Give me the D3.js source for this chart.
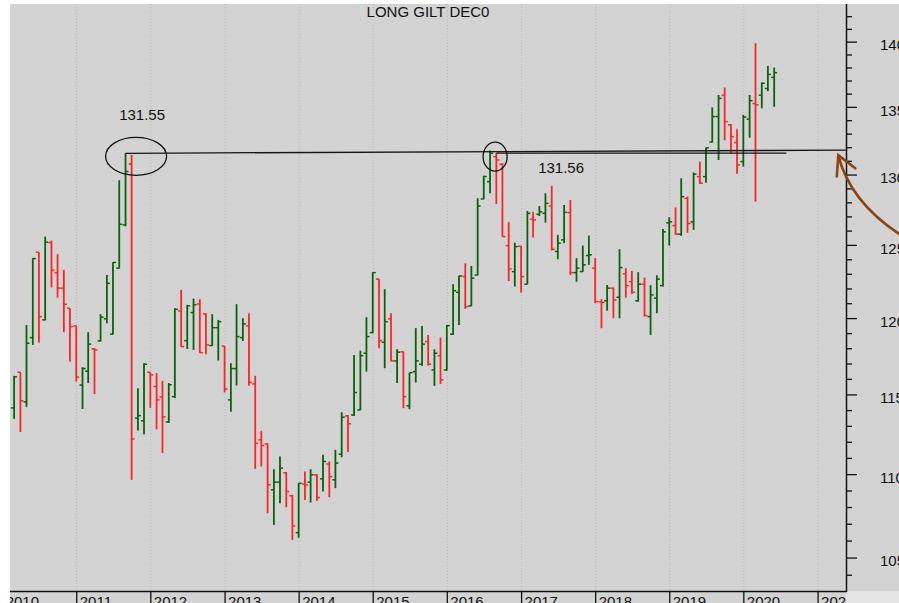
<!DOCTYPE html>
<html>
<head>
<meta charset="utf-8">
<script src="https://cdn.jsdelivr.net/npm/d3@7"></script>
<style>
  body { margin: 0; background: #fff; }
  #chart { width: 899px; height: 603px; }
  text { font-family: "Liberation Sans", Arial, sans-serif; fill: #111; }
</style>
</head>
<body>
<div id="chart"></div>
<script>
//Datos mensuales (OHLC)
const months = [
  "2010-03","2010-04","2010-05","2010-06","2010-07","2010-08","2010-09","2010-10","2010-11","2010-12",
  "2011-01","2011-02","2011-03","2011-04","2011-05","2011-06","2011-07","2011-08","2011-09","2011-10","2011-11","2011-12",
  "2012-01","2012-02","2012-03","2012-04","2012-05","2012-06","2012-07","2012-08","2012-09","2012-10","2012-11","2012-12",
  "2013-01","2013-02","2013-03","2013-04","2013-05","2013-06","2013-07","2013-08","2013-09","2013-10","2013-11","2013-12",
  "2014-01","2014-02","2014-03","2014-04","2014-05","2014-06","2014-07","2014-08","2014-09","2014-10","2014-11","2014-12",
  "2015-01","2015-02","2015-03","2015-04","2015-05","2015-06","2015-07","2015-08","2015-09","2015-10","2015-11","2015-12",
  "2016-01","2016-02","2016-03","2016-04","2016-05","2016-06","2016-07","2016-08","2016-09","2016-10","2016-11","2016-12",
  "2017-01","2017-02","2017-03","2017-04","2017-05","2017-06","2017-07","2017-08","2017-09","2017-10","2017-11","2017-12",
  "2018-01","2018-02","2018-03","2018-04","2018-05","2018-06","2018-07","2018-08","2018-09","2018-10","2018-11","2018-12",
  "2019-01","2019-02","2019-03","2019-04","2019-05","2019-06","2019-07","2019-08","2019-09","2019-10","2019-11","2019-12",
  "2020-01","2020-02","2020-03","2020-04","2020-05","2020-06"
];

const open = [
  114.14,116.43,114.52,118.70,124.49,119.88,125.16,123.08,122.02,120.66,
  119.48,115.60,116.50,117.96,118.48,119.95,118.93,123.39,126.40,130.77,113.49,113.32,
  116.43,115.51,114.84,113.25,114.86,120.48,118.50,120.37,120.95,120.28,118.18,119.36,
  118.14,114.65,116.67,118.70,119.48,115.68,112.12,111.87,109.04,109.51,110.08,108.68,
  106.47,109.39,109.51,109.95,109.71,110.62,109.65,111.23,113.63,113.69,114.01,117.67,
  119.03,122.64,118.40,119.95,117.17,117.76,114.27,116.47,116.95,118.44,116.58,117.50,
  116.58,118.93,121.74,122.81,120.82,122.92,128.24,129.49,131.30,130.75,124.95,123.15,
  124.91,122.29,126.80,127.15,127.22,127.74,124.54,125.35,127.27,123.08,123.15,124.26,
  123.39,121.10,121.16,122.02,121.40,123.00,122.46,121.16,122.29,120.10,121.34,122.19,
  126.55,126.35,125.75,128.29,126.61,129.85,129.85,132.38,134.27,135.88,133.65,132.34,
  130.94,134.08,135.25,135.88,136.39,137.24
];

const high = [
  116.20,116.43,119.54,124.08,124.49,125.58,125.30,124.35,123.27,120.66,
  119.48,116.76,119.06,118.00,120.26,122.92,123.80,129.59,131.55,131.43,115.40,117.02,
  116.43,116.37,115.88,115.73,120.66,121.90,120.89,121.31,121.27,120.33,120.26,119.88,
  118.15,117.02,120.93,119.99,120.33,116.20,112.69,111.91,110.30,111.09,110.12,108.74,
  109.45,110.16,110.30,110.01,111.19,110.78,111.50,113.86,113.69,117.56,117.84,120.06,
  123.11,122.65,121.95,120.33,117.93,117.78,116.41,119.33,119.48,118.88,117.93,118.70,
  119.54,122.29,122.87,123.73,123.54,128.29,129.91,131.75,131.56,130.82,126.59,125.16,
  124.93,127.39,127.33,127.74,128.65,129.17,125.70,127.81,128.17,124.08,124.95,125.65,
  124.08,121.27,122.24,122.06,124.70,123.39,123.20,123.11,122.74,122.22,122.90,126.12,
  126.94,127.65,129.73,128.41,130.15,130.94,131.97,134.96,135.90,136.47,133.72,133.32,
  134.40,135.90,139.88,136.84,138.12,137.99
];

const low = [
  113.44,112.61,114.20,118.22,118.37,119.85,122.08,121.38,119.06,117.13,
  115.83,114.07,115.73,115.02,118.45,119.66,118.90,123.36,126.30,109.65,112.71,112.48,
  114.14,112.79,111.30,113.19,114.76,118.09,117.95,117.89,117.69,117.61,118.16,117.19,
  115.12,113.90,115.57,118.48,115.55,110.32,110.47,107.63,106.93,108.23,107.99,106.04,
  106.16,108.43,108.27,108.37,108.94,108.59,109.14,111.04,111.36,113.63,113.99,116.47,
  118.99,118.00,116.69,117.15,115.73,114.12,114.06,115.77,116.86,116.86,115.55,115.67,
  116.53,118.88,119.54,120.62,120.80,122.90,128.22,128.65,127.88,125.57,122.51,122.13,
  121.72,122.28,125.51,127.03,126.56,124.60,124.01,125.12,122.92,122.46,123.14,123.62,
  121.00,119.32,120.50,119.99,119.99,121.38,121.63,121.11,120.10,118.88,120.33,122.13,
  124.95,125.70,125.63,125.84,126.05,129.32,129.41,132.34,131.06,132.51,131.53,130.05,
  130.58,132.70,128.05,134.89,136.19,135.00
];

const close = [
  116.13,114.59,118.33,124.05,120.10,125.19,123.25,122.02,120.93,119.43,
  116.11,116.67,118.27,117.89,120.06,122.35,123.78,126.45,130.22,112.18,113.65,116.95,
  116.26,114.65,113.57,115.62,120.59,118.11,120.82,120.89,117.71,118.22,119.36,119.76,
  115.34,116.67,118.77,119.61,115.77,111.91,111.77,109.35,109.51,110.37,108.94,106.87,
  109.44,109.34,109.96,108.57,110.78,109.85,110.68,113.55,113.13,115.12,117.51,118.77,
  123.08,118.50,119.76,117.17,117.74,114.86,116.40,117.17,118.27,116.95,117.67,115.94,
  119.50,121.85,122.85,120.77,122.70,127.74,129.86,131.55,131.06,125.58,123.34,124.88,
  122.81,127.22,126.75,127.33,127.93,124.70,125.12,127.29,123.08,123.39,123.62,124.31,
  121.11,121.05,122.02,121.22,123.43,122.19,121.74,122.29,120.17,121.56,122.63,125.91,
  126.62,125.75,128.41,126.50,130.03,129.37,131.95,134.27,135.64,133.89,132.78,130.70,
  134.23,135.47,135.15,136.79,137.47,137.60
];

//Ejes
const yearTicks = ["2010","2011","2012","2013","2014","2015","2016","2017","2018","2019","2020","2021"];
const majorTicks = [105, 110, 115, 120, 125, 130, 135, 140];
const minorTicks = [104,106,107,108,109,111,112,113,114,116,117,118,119,121,122,123,124,126,127,128,129,131,132,133,134,136,137,138,139,141,142];

//Anotaciones
const chartTitle = "LONG GILT DEC0";
const resistance2011 = [["2011-09-01", 131.55], ["2021-05-20", 131.78]];
const resistance2016 = [["2016-09-01", 131.56], ["2020-07-31", 131.56]];
const circle2011 = ["2011-10-23", 131.33];
const circle2016 = ["2016-08-26", 131.30];
const arrowTip = ["2021-04-13", 131.40];

const COLOR_UP = '#0a620a',
    COLOR_DOWN = '#ff2424',
    COLOR_BG = '#d3d3d3',
    COLOR_ARROW = '#8b4513';

let width = 899, height = 603;
let plot = {left: 10, top: 4, right: 846, bottom: 591};

let parse = d3.utcParse("%Y-%m");
let parseDay = d3.utcParse("%Y-%m-%d");
let parseYear = d3.utcParse("%Y");

let data = months.map(function(m, i) {
    return {date: parse(m), open: open[i], high: high[i], low: low[i], close: close[i]};
});

let svg = d3.select("#chart")
    .append("svg")
    .attr("width", width)
    .attr("height", height);

let x = d3.scaleUtc()
    .domain([parseDay("2010-01-01"), parseDay("2021-01-01")])
    .range([2.15, 817.6]);

let y = d3.scaleLog()
    .domain([103.06, 142.97])
    .range([plot.bottom, plot.top]);

//Fondo
svg.append("rect").attr("x", plot.left).attr("y", plot.top)
    .attr("width", width - plot.left).attr("height", plot.bottom - plot.top)
    .attr("fill", COLOR_BG);
svg.append("rect").attr("x", plot.left).attr("y", plot.bottom)
    .attr("width", plot.right - plot.left).attr("height", height - plot.bottom)
    .attr("fill", COLOR_BG);
svg.append("rect").attr("x", plot.right).attr("y", plot.bottom)
    .attr("width", width - plot.right).attr("height", height - plot.bottom)
    .attr("fill", '#e4e4e4');

svg.append("clipPath").attr("id", "clip")
    .append("rect").attr("x", plot.left).attr("y", plot.top)
    .attr("width", plot.right - plot.left).attr("height", plot.bottom - plot.top);

svg.append("clipPath").attr("id", "clipx")
    .append("rect").attr("x", plot.left).attr("y", plot.bottom - 2)
    .attr("width", plot.right - plot.left).attr("height", height - plot.bottom + 2);

let inner = svg.append("g").attr("clip-path", "url(#clip)");

//Rejilla vertical
inner.selectAll(".grid")
    .data(yearTicks)
    .enter()
    .append("line")
    .attr("class", "grid")
    .attr("x1", function(d) { return x(parseYear(d)) + 0.5; })
    .attr("x2", function(d) { return x(parseYear(d)) + 0.5; })
    .attr("y1", plot.top)
    .attr("y2", plot.bottom)
    .attr("stroke", '#b5b5b5')
    .attr("stroke-width", 1)
    .attr("stroke-dasharray", "1,2");

//Barras OHLC
function barColor(d) { return d.close >= d.open ? COLOR_UP : COLOR_DOWN; }

let bars = inner.selectAll(".bar")
    .data(data)
    .enter()
    .append("g")
    .attr("class", "bar")
    .attr("stroke", barColor)
    .attr("stroke-width", 1.8);

bars.append("line")
    .attr("x1", function(d) { return x(d.date); })
    .attr("x2", function(d) { return x(d.date); })
    .attr("y1", function(d) { return y(d.high); })
    .attr("y2", function(d) { return y(d.low); });

bars.append("line")
    .attr("x1", function(d) { return x(d.date) - 3; })
    .attr("x2", function(d) { return x(d.date); })
    .attr("y1", function(d) { return y(d.open); })
    .attr("y2", function(d) { return y(d.open); })
    .attr("stroke-width", 1.5);

bars.append("line")
    .attr("x1", function(d) { return x(d.date); })
    .attr("x2", function(d) { return x(d.date) + 3; })
    .attr("y1", function(d) { return y(d.close); })
    .attr("y2", function(d) { return y(d.close); })
    .attr("stroke-width", 1.5);

//Lineas de resistencia
let line = d3.line()
    .x(function(d) { return x(parseDay(d[0])); })
    .y(function(d) { return y(d[1]); });

[resistance2011, resistance2016].forEach(function(r) {
    inner.append("path")
        .attr("d", line(r))
        .attr("fill", "none")
        .attr("stroke", '#151515')
        .attr("stroke-width", 1.3);
});

//Circulos y etiquetas
function addCircle(c, rx, ry, label, dx, dy) {
    let cx = x(parseDay(c[0])), cy = y(c[1]);
    svg.append("ellipse")
        .attr("cx", cx).attr("cy", cy)
        .attr("rx", rx).attr("ry", ry)
        .attr("fill", "none")
        .attr("stroke", '#111')
        .attr("stroke-width", 1.3);
    svg.append("text")
        .attr("x", cx + dx).attr("y", cy + dy)
        .attr("text-anchor", "middle")
        .attr("font-size", "15px")
        .text(d3.format(".2f")(label));
}
addCircle(circle2011, 30.5, 19, resistance2011[0][1], 6, -36);
addCircle(circle2016, 12, 14.5, resistance2016[0][1], 66, 16.5);

//Titulo
svg.append("text")
    .attr("x", 428).attr("y", 17)
    .attr("text-anchor", "middle")
    .attr("font-size", "15px")
    .text(chartTitle);

//Eje derecho
let yAxis = svg.append("g")
    .attr("transform", "translate(" + plot.right + ",0)");

yAxis.append("g")
    .call(d3.axisRight(y).tickValues(minorTicks).tickSize(6).tickFormat(""))
    .call(function(g) { g.select(".domain").remove(); })
    .selectAll("line").attr("stroke", "#111").attr("stroke-width", 1.3);

let yMajor = yAxis.append("g")
    .call(d3.axisRight(y).tickValues(majorTicks).tickSize(11).tickPadding(23).tickFormat(d3.format("d")))
    .call(function(g) { g.select(".domain").remove(); });
yMajor.selectAll("line").attr("stroke", "#111").attr("stroke-width", 1.3);
yMajor.selectAll("text")
    .attr("font-size", "15px")
    .attr("font-family", '"Liberation Sans", Arial, sans-serif')
    .attr("fill", "#111")
    .attr("dy", "0.55em");

yAxis.append("line")
    .attr("x1", 0.5).attr("x2", 0.5)
    .attr("y1", plot.top).attr("y2", plot.bottom + 1)
    .attr("stroke", "#111").attr("stroke-width", 1.5);

//Eje inferior
let xAxis = svg.append("g")
    .attr("clip-path", "url(#clipx)")
    .append("g")
    .attr("transform", "translate(0," + plot.bottom + ")")
    .call(d3.axisBottom(x)
        .tickValues(yearTicks.map(function(d) { return parseYear(d); }))
        .tickSize(14)
        .tickFormat(d3.utcFormat("%Y")))
    .call(function(g) { g.select(".domain").remove(); });
xAxis.selectAll("line").attr("stroke", "#111").attr("stroke-width", 1.3);
xAxis.selectAll("text")
    .attr("text-anchor", "start")
    .attr("x", 3)
    .attr("y", 16)
    .attr("dy", 0)
    .attr("font-size", "15px")
    .attr("font-family", '"Liberation Sans", Arial, sans-serif')
    .attr("fill", "#111");

svg.append("line")
    .attr("x1", plot.left).attr("x2", plot.right + 1)
    .attr("y1", plot.bottom + 0.5).attr("y2", plot.bottom + 0.5)
    .attr("stroke", "#111").attr("stroke-width", 1.5);

//Flecha
let tx = x(parseDay(arrowTip[0])), ty = y(arrowTip[1]);
let arrow = svg.append("g")
    .attr("transform", "translate(" + tx + "," + ty + ")")
    .attr("fill", "none")
    .attr("stroke", COLOR_ARROW)
    .attr("stroke-width", 2.6)
    .attr("stroke-linecap", "round");
arrow.append("path").attr("d", "M0,0 Q12,48 66,82");
arrow.append("path").attr("d", "M-1.5,21 L0,0 L17,13");
</script>
</body>
</html>
